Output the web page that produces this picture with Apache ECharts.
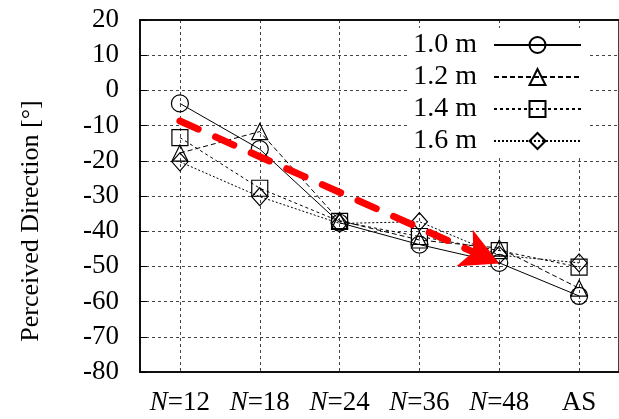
<!DOCTYPE html>
<html>
<head>
<meta charset="utf-8">
<script src="https://cdn.jsdelivr.net/npm/echarts@6/dist/echarts.min.js"></script>
<style>
  html, body { margin: 0; padding: 0; background: #fff; }
  #chart { width: 619px; height: 419px; }
</style>
</head>
<body>
<div id="chart"></div>
<script>
// categories along x
const categories = ['N=12', 'N=18', 'N=24', 'N=36', 'N=48', 'AS'];
const yTicks = { min: -80, max: 20, step: 10 };

// perceived direction per distance
const dist10 = [-3.7, -16.7, -37.6, -43.8, -49.0, -58.4];
const dist12 = [-17.8, -11.7, -37.0, -42.5, -44.8, -56.2];
const dist14 = [-13.4, -27.8, -37.2, -41.5, -45.5, -50.2];
const dist16 = [-20.3, -30.2, -37.8, -37.3, -46.8, -49.0];

// red trend arrow, start/end (category index, value)
const arrowFrom = [0, -8.7];
const arrowTo = [4, -49.2];

const FONT = 'Liberation Serif';

const chart = echarts.init(document.getElementById('chart'));

const mkSeries = (name, data, symbol, size, dash) => ({
  name,
  type: 'line',
  data,
  symbol,
  symbolSize: size,
  z: 3,
  lineStyle: { color: '#000', width: 1, type: dash },
  itemStyle: { color: 'rgba(0,0,0,0)', borderColor: '#000', borderWidth: 1.2 },
  emphasis: { disabled: true }
});

const option = {
  animation: false,
  backgroundColor: '#fff',
  grid: {
    left: 140,
    top: 20,
    width: 480,
    height: 352,
    show: true,
    borderColor: '#000',
    borderWidth: 1.5
  },
  legend: {
    data: ['1.0 m', '1.2 m', '1.4 m', '1.6 m'],
    orient: 'vertical',
    align: 'right',
    right: 32,
    top: 28,
    itemWidth: 87,
    itemHeight: 20,
    itemGap: 4,
    padding: [3, 5],
    backgroundColor: '#fff',
    textStyle: { fontFamily: FONT, fontSize: 28, color: '#000', lineHeight: 28, padding: [0, 12, 0, 0] }
  },
  xAxis: [
    {
      type: 'category',
      data: categories,
      boundaryGap: true,
      axisLine: { onZero: false, lineStyle: { color: '#000', width: 1.5 } },
      axisTick: { inside: true, alignWithLabel: true, length: 7, lineStyle: { color: '#000' } },
      axisLabel: {
        interval: 0,
        margin: 17,
        color: '#000',
        fontFamily: FONT,
        fontSize: 27,
        formatter: v => v.startsWith('N=') ? '{i|N}=' + v.slice(2) : v,
        rich: { i: { fontStyle: 'italic', fontFamily: FONT, fontSize: 27, color: '#000' } }
      },
      splitLine: {
        show: true,
        alignWithLabel: true,
        lineStyle: { color: '#444', width: 1, type: [3, 3] }
      }
    },
    {
      type: 'category',
      data: categories,
      position: 'top',
      boundaryGap: true,
      axisLine: { onZero: false, lineStyle: { color: '#000', width: 1.5 } },
      axisTick: { inside: true, alignWithLabel: true, interval: 0, length: 7, lineStyle: { color: '#000' } },
      axisLabel: { show: false },
      splitLine: { show: false }
    }
  ],
  yAxis: {
    type: 'value',
    min: yTicks.min,
    max: yTicks.max,
    interval: yTicks.step,
    name: 'Perceived Direction [°]',
    nameLocation: 'middle',
    nameGap: 96,
    nameTextStyle: { fontFamily: FONT, fontSize: 26, color: '#000', padding: [0, 50, 0, 0] },
    axisLine: { show: true, lineStyle: { color: '#000', width: 1.5 } },
    axisTick: { show: true, inside: true, length: 7, lineStyle: { color: '#000' } },
    axisLabel: { margin: 21, color: '#000', fontFamily: FONT, fontSize: 27 },
    splitLine: { lineStyle: { color: '#444', width: 1, type: [3, 3] } }
  },
  series: [
    mkSeries('1.0 m', dist10, 'circle', 17, 'solid'),
    mkSeries('1.2 m', dist12, 'triangle', 16, [5, 3]),
    mkSeries('1.4 m', dist14, 'rect', 16, [3, 3]),
    mkSeries('1.6 m', dist16, 'diamond', [16, 18], [2, 2]),
    {
      name: 'trend',
      type: 'line',
      data: [],
      z: 5,
      markLine: {
        silent: true,
        symbol: ['none', 'arrow'],
        symbolSize: [30, 38],
        label: { show: false },
        lineStyle: { color: '#ff0000', width: 7, type: [20, 19], cap: 'round' },
        data: [[{ coord: arrowFrom }, { coord: arrowTo }]]
      }
    }
  ]
};

chart.setOption(option);
</script>
</body>
</html>
